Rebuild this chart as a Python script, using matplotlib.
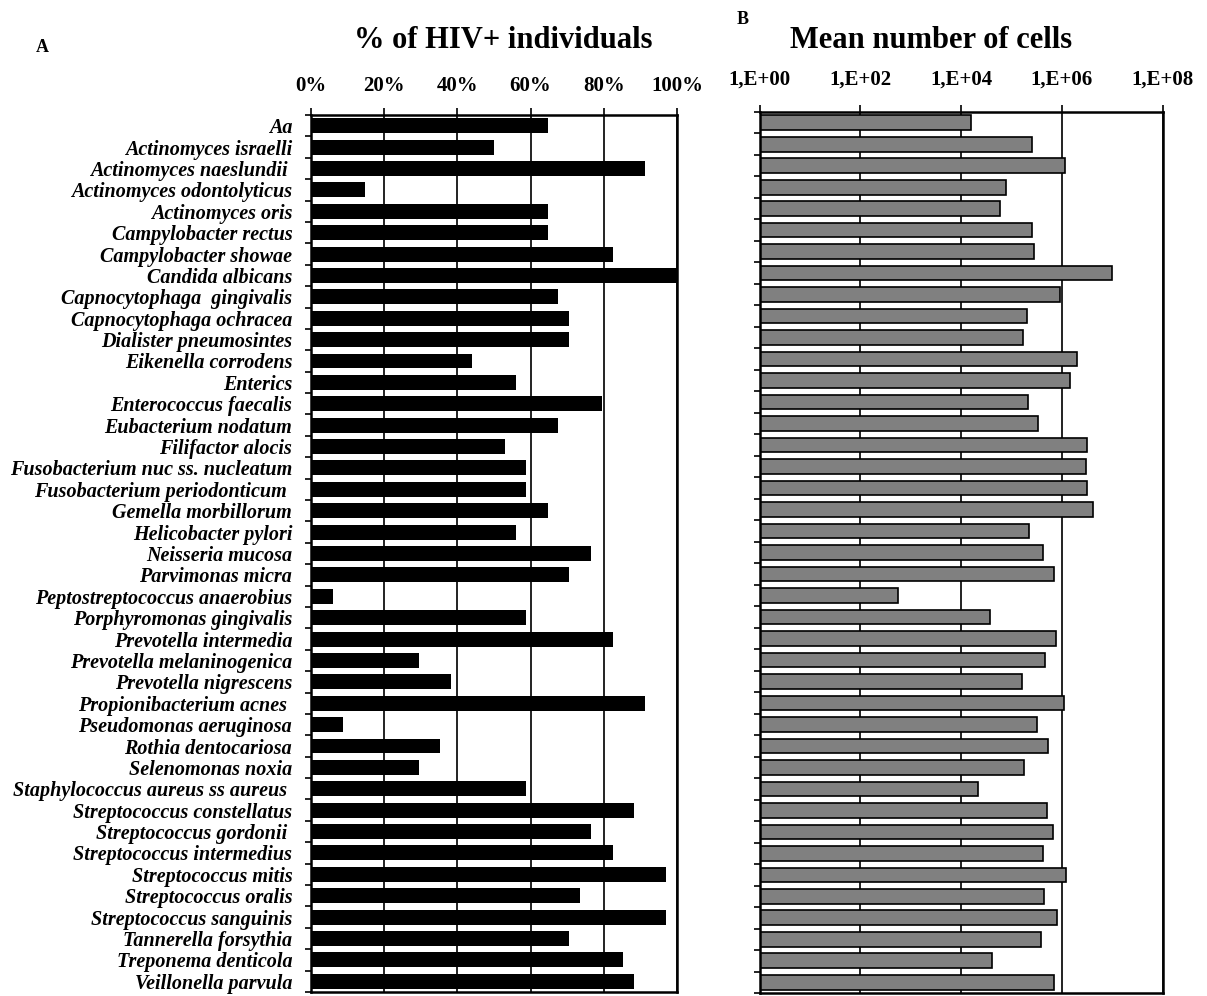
import numpy as np
import matplotlib
matplotlib.use("Agg")
import matplotlib.pyplot as plt
from matplotlib.ticker import NullLocator

plt.rcParams["font.family"] = ["Liberation Serif", "DejaVu Serif"]

especies = [
    "Aa", "Actinomyces israelli", "Actinomyces naeslundii ", "Actinomyces odontolyticus",
    "Actinomyces oris", "Campylobacter rectus", "Campylobacter showae", "Candida albicans",
    "Capnocytophaga  gingivalis", "Capnocytophaga ochracea", "Dialister pneumosintes",
    "Eikenella corrodens", "Enterics", "Enterococcus faecalis", "Eubacterium nodatum",
    "Filifactor alocis", "Fusobacterium nuc ss. nucleatum", "Fusobacterium periodonticum ",
    "Gemella morbillorum", "Helicobacter pylori", "Neisseria mucosa", "Parvimonas micra",
    "Peptostreptococcus anaerobius", "Porphyromonas gingivalis", "Prevotella intermedia",
    "Prevotella melaninogenica", "Prevotella nigrescens", "Propionibacterium acnes ",
    "Pseudomonas aeruginosa", "Rothia dentocariosa", "Selenomonas noxia",
    "Staphylococcus aureus ss aureus ", "Streptococcus constellatus", "Streptococcus gordonii ",
    "Streptococcus intermedius", "Streptococcus mitis", "Streptococcus oralis",
    "Streptococcus sanguinis", "Tannerella forsythia", "Treponema denticola", "Veillonella parvula",
]

# % de individuos HIV+ com a especie
pct_hiv = [
    64.7, 50.0, 91.2, 14.7, 64.7, 64.7, 82.4, 100.0, 67.6, 70.6, 70.6, 44.1, 55.9, 79.4,
    67.6, 52.9, 58.8, 58.8, 64.7, 55.9, 76.5, 70.6, 5.9, 58.8, 82.4, 29.4, 38.2, 91.2,
    8.8, 35.3, 29.4, 58.8, 88.2, 76.5, 82.4, 97.1, 73.5, 97.1, 70.6, 85.3, 88.2,
]

# numero medio de celulas
media_celulas = [
    1.6e4, 2.5e5, 1.15e6, 7.8e4, 5.9e4, 2.5e5, 2.8e5, 9.8e6, 9.3e5, 2.0e5, 1.66e5,
    2.0e6, 1.45e6, 2.1e5, 3.4e5, 3.2e6, 3.0e6, 3.2e6, 4.1e6, 2.2e5, 4.3e5, 6.8e5,
    5.6e2, 3.7e4, 7.6e5, 4.7e5, 1.6e5, 1.12e6, 3.2e5, 5.4e5, 1.8e5, 2.2e4, 5.0e5,
    6.5e5, 4.3e5, 1.2e6, 4.5e5, 7.9e5, 3.8e5, 4.0e4, 6.8e5,
]

ticks_pct = [0, 20, 40, 60, 80, 100]
ticks_log = [1e0, 1e2, 1e4, 1e6, 1e8]
labels_log = ["1,E+00", "1,E+02", "1,E+04", "1,E+06", "1,E+08"]

W, H = 1207, 996
fig = plt.figure(figsize=(W / 100, H / 100), dpi=100)

n = len(especies)
y = np.arange(n)
limites = np.arange(n + 1) - 0.5


def estilo_eixo(ax):
    ax.set_ylim(n - 0.5, -0.5)
    ax.xaxis.tick_top()
    ax.set_yticks(limites, minor=True)
    ax.tick_params(axis="y", which="minor", length=4, width=1.2, direction="out")
    ax.tick_params(axis="x", which="major", length=5, width=1.2, direction="out")
    ax.grid(True, axis="x", color="#222222", lw=1.4)
    ax.set_axisbelow(True)
    for s in ax.spines.values():
        s.set_linewidth(1.8)


# painel A
ax1 = fig.add_axes([311 / W, 1 - 992 / H, 366 / W, 877 / H])
ax1.barh(y, pct_hiv, height=0.7, color="black")
ax1.set_xlim(0, 100)
estilo_eixo(ax1)
ax1.set_xticks(ticks_pct)
ax1.set_xticklabels([f"{t}%" for t in ticks_pct], fontsize=15, fontweight="bold")
ax1.tick_params(axis="x", pad=9)
ax1.set_yticks(y)
ax1.set_yticklabels(especies, fontsize=14.5, fontweight="bold", fontstyle="italic")
ax1.tick_params(axis="y", which="major", length=0, pad=13.5)

# painel B
ax2 = fig.add_axes([759.7 / W, 1 - 993 / H, 403 / W, 881 / H])
ax2.set_xscale("log")
ax2.barh(y, np.array(media_celulas) - 1, left=1, height=0.68,
         color="#808080", edgecolor="black", linewidth=1.2)
ax2.set_xlim(1, 1e8)
estilo_eixo(ax2)
ax2.set_xticks(ticks_log)
ax2.set_xticklabels(labels_log, fontsize=15, fontweight="bold")
ax2.xaxis.set_minor_locator(NullLocator())
ax2.tick_params(axis="x", pad=11)
ax2.set_yticks([])
ax2.set_yticks(limites, minor=True)

fig.text(503 / W, 1 - 40 / H, "% of HIV+ individuals", ha="center", va="center",
         fontsize=22, fontweight="bold")
fig.text(931 / W, 1 - 40 / H, "Mean number of cells", ha="center", va="center",
         fontsize=22, fontweight="bold")
fig.text(42 / W, 1 - 47 / H, "A", ha="center", va="center", fontsize=13, fontweight="bold")
fig.text(743 / W, 1 - 19 / H, "B", ha="center", va="center", fontsize=13, fontweight="bold")

fig.savefig("out.png", dpi=100, facecolor="white")
